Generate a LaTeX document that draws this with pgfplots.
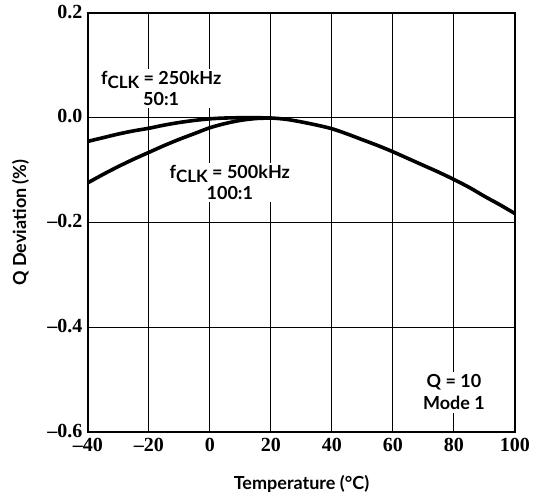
\documentclass[border=0pt]{standalone}
\usepackage{fontspec}
\setmainfont{Lato}
\newfontfamily\tickfont{Liberation Serif}
\usepackage{graphicx}
\usepackage{pgfplots}
\pgfplotsset{compat=1.18}
\newcommand{\clk}{f\raisebox{-0.22em}{\fontsize{17}{17}\selectfont CLK}}
\begin{document}
\begin{tikzpicture}
\begin{axis}[
  scale only axis,
  width=427pt, height=419pt,
  xmin=-40, xmax=100, ymin=-0.6, ymax=0.2,
  xtick={-40,-20,0,20,40,60,80,100},
  xticklabels={–40,–20,0,20,40,60,80,100},
  ytick={-0.6,-0.4,-0.2,0,0.2},
  yticklabels={–0.6,–0.4,–0.2,0.0,0.2},
  tick style={draw=none},
  ticklabel style={font=\fontsize{20}{20}\selectfont\tickfont\bfseries},
  xticklabel style={yshift=-3pt},
  yticklabel style={xshift=-2pt, yshift=1.5pt},
  grid=major,
  major grid style={black, line width=1pt},
  axis line style={line width=2.6pt},
  xlabel={Temperature (°C)},
  ylabel={Q Deviation (\%)},
  label style={font=\fontsize{18}{18}\selectfont\bfseries},
  xlabel style={at={(axis description cs:0.5,-0.138)}, anchor=base},
  ylabel style={at={(axis description cs:-0.158,0.5)}, anchor=center},
  clip=true,
]
\addplot[black, line width=3.6pt, smooth] coordinates {
(-40,-0.045) (-35,-0.038) (-30,-0.031) (-25,-0.025) (-20,-0.020) (-15,-0.014) (-10,-0.009) (-5,-0.005) (0,-0.002) (5,-0.0005) (10,0.000) (15,0.000) (20,-0.0005)
(25,-0.003) (30,-0.008) (35,-0.014) (40,-0.021) (45,-0.031) (50,-0.042) (55,-0.053) (60,-0.065) (65,-0.078) (70,-0.091) (75,-0.104) (80,-0.118) (85,-0.133) (90,-0.150) (95,-0.166) (100,-0.183)
};
\addplot[black, line width=3.6pt, smooth] coordinates {
(-40,-0.124) (-35,-0.108) (-30,-0.093) (-25,-0.079) (-20,-0.066) (-15,-0.053) (-10,-0.041) (-5,-0.030) (0,-0.019) (5,-0.011) (10,-0.005) (15,-0.0015) (20,-0.0005)
};
\node[fill=white, inner sep=2pt, align=center, font=\fontsize{18}{21}\selectfont\bfseries] at (axis cs:-16,0.056) {\clk{} = 250kHz\\50:1};
\node[fill=white, inner sep=2pt, align=center, font=\fontsize{18}{21}\selectfont\bfseries] at (axis cs:6.5,-0.124) {\clk{} = 500kHz\\100:1};
\node[fill=white, inner sep=3pt, align=center, font=\fontsize{18}{22}\selectfont\bfseries] at (axis cs:80,-0.524) {Q = 10\\Mode 1};
\end{axis}
\pgfresetboundingbox
\path[use as bounding box] (-88pt,-69pt) rectangle (451pt,432pt);
\end{tikzpicture}
\end{document}
